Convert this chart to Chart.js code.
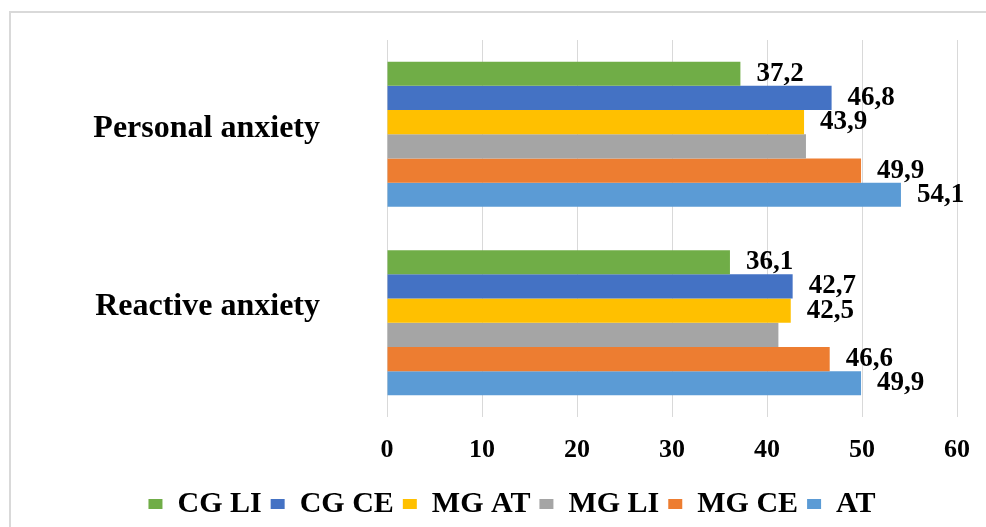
<!DOCTYPE html>
<html>
<head>
<meta charset="utf-8">
<script src="https://cdn.jsdelivr.net/npm/chart.js@4.4.0/dist/chart.umd.min.js"></script>
<style>
body { margin: 0; background: #fff; overflow: hidden; }
#frame { position: absolute; left: 9px; top: 11px; width: 1000px; height: 600px; border-top: 2px solid #d9d9d9; border-left: 2px solid #d9d9d9; }
#c { position: absolute; left: 0; top: 0; }
</style>
</head>
<body>
<div id="frame"></div>
<canvas id="c" width="986" height="527"></canvas>
<script>
var categories = ["Personal anxiety", "Reactive anxiety"]
var seriesNames = ["CG LI", "CG CE", "MG AT", "MG LI", "MG CE", "AT"]
var seriesColors = ["#70AD47", "#4472C4", "#FFC000", "#A5A5A5", "#ED7D31", "#5B9BD5"]

var cgLi = [37.2, 36.1]
var cgCe = [46.8, 42.7]
var mgAt = [43.9, 42.5]
var mgLi = [44.1, 41.2]
var mgCe = [49.9, 46.6]
var at = [54.1, 49.9]

var xTicks = [0, 10, 20, 30, 40, 50, 60]
// grey bars carry no value label in the original
var unlabeled = ["MG LI"]

var serif = "'Liberation Serif', 'Times New Roman', serif"
var allValues = [cgLi, cgCe, mgAt, mgLi, mgCe, at]

var datasets = seriesNames.map(function(name, i) {
    return {
        label: name,
        data: allValues[i],
        backgroundColor: seriesColors[i],
        borderWidth: 0,
        categoryPercentage: 0.77,
        barPercentage: 1.0
    }
})

var valueLabels = {
    id: 'valueLabels',
    afterDatasetsDraw: function(chart) {
        var ctx = chart.ctx
        ctx.save()
        ctx.font = "bold 27px " + serif
        ctx.fillStyle = '#000'
        ctx.textAlign = 'left'
        ctx.textBaseline = 'middle'
        chart.data.datasets.forEach(function(ds, i) {
            if (unlabeled.indexOf(ds.label) >= 0) return
            chart.getDatasetMeta(i).data.forEach(function(bar, j) {
                var txt = ds.data[j].toFixed(1).replace('.', ',')
                ctx.fillText(txt, bar.x + 16, bar.y)
            })
        })
        ctx.restore()
    }
}

var ctx = document.getElementById("c").getContext('2d')
var chart = new Chart(ctx, {
    type: 'bar',
    data: {
        labels: categories,
        datasets: datasets
    },
    plugins: [valueLabels],
    options: {
        responsive: false,
        animation: false,
        indexAxis: 'y',
        layout: {
            padding: { left: 67, right: 29, top: 40, bottom: -2 }
        },
        scales: {
            x: {
                min: 0,
                max: 60,
                afterBuildTicks: function(axis) {
                    axis.ticks = xTicks.map(function(v) { return { value: v } })
                },
                afterFit: function(axis) {
                    axis.height = 63
                    axis.paddingLeft = 0
                    axis.paddingRight = 0
                },
                grid: { color: '#d9d9d9', lineWidth: 1, drawTicks: false },
                border: { display: false },
                ticks: {
                    padding: 18,
                    color: '#000',
                    font: { family: serif, size: 26, weight: 'bold' }
                }
            },
            y: {
                afterFit: function(axis) {
                    axis.width = 320
                    axis.paddingTop = 0
                    axis.paddingBottom = 0
                },
                grid: { display: false, drawTicks: false },
                border: { display: false },
                ticks: {
                    padding: 67,
                    color: '#000',
                    callback: function(value) {
                        return [this.getLabelForValue(value), '']
                    },
                    font: function(c) {
                        return { family: serif, size: 32, weight: 'bold', lineHeight: c.index === 0 ? 0.375 : 0.98 }
                    }
                }
            }
        },
        plugins: {
            tooltip: { enabled: false },
            legend: {
                position: 'bottom',
                labels: {
                    boxWidth: 14,
                    boxHeight: 10,
                    padding: 9,
                    color: '#000',
                    font: { family: serif, size: 30, weight: 'bold' }
                }
            }
        }
    }
})
</script>
</body>
</html>
